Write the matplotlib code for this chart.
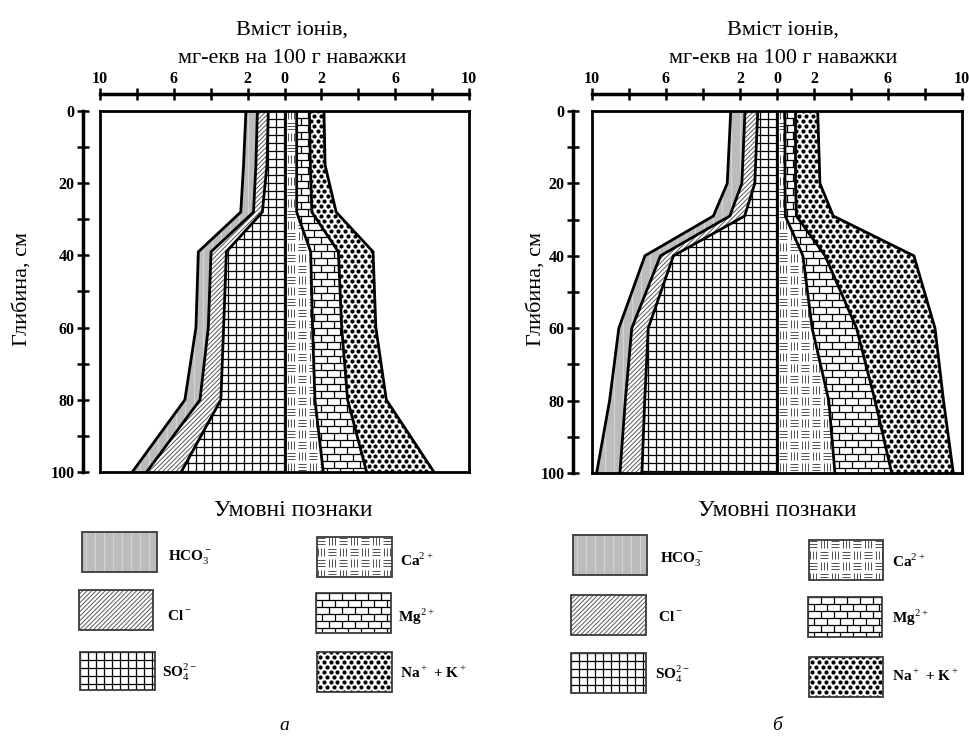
import numpy as np
import matplotlib
matplotlib.use("Agg")
import matplotlib.pyplot as plt
from matplotlib.transforms import Affine2D
from matplotlib.collections import LineCollection
from matplotlib.patches import Rectangle

W, H = 969, 740

# ---------------- data (мг-екв на 100 г наважки) ----------------
# panel "а"
depth_a = [0, 15, 28, 39, 60, 80, 100]
so4_a  = [0.88, 0.95, 1.20, 3.15, 3.30, 3.45, 5.60]
cl_a   = [0.59, 0.60, 0.48, 0.83, 0.83, 1.13, 1.87]
hco3_a = [0.62, 0.67, 0.69, 0.69, 0.67, 0.82, 0.78]
ca_a   = [0.66, 0.66, 0.66, 1.42, 1.52, 1.65, 2.10]
mg_a   = [0.69, 0.74, 0.82, 1.50, 1.58, 1.77, 2.35]
nak_a  = [0.79, 0.80, 1.32, 1.88, 1.85, 2.10, 3.65]

# panel "б"
depth_b = [0, 20, 29, 40, 60, 80, 100]
so4_b  = [1.04, 1.20, 1.75, 5.60, 6.96, 7.15, 7.30]
cl_b   = [0.69, 0.70, 0.80, 0.70, 0.89, 1.05, 1.19]
hco3_b = [0.77, 0.79, 0.89, 0.84, 0.70, 0.85, 1.26]
ca_b   = [0.43, 0.43, 0.45, 1.40, 1.90, 2.80, 3.13]
mg_b   = [0.57, 0.57, 0.60, 1.20, 2.40, 2.50, 3.07]
nak_b  = [1.20, 1.32, 1.99, 4.80, 4.24, 3.70, 3.33]

x_ticks = [-10, -8, -6, -4, -2, 0, 2, 4, 6, 8, 10]
x_tick_labels = ["10", "", "6", "", "2", "0", "2", "", "6", "", "10"]
y_ticks = [0, 10, 20, 30, 40, 50, 60, 70, 80, 90, 100]
y_tick_labels = ["0", "", "20", "", "40", "", "60", "", "80", "", "100"]

title_lines = ["Вміст іонів,", "мг-екв на 100 г наважки"]
ylabel_text = "Глибина, см"
legend_title = "Умовні познаки"
legend_labels = ["HCO$_3^-$", "Cl$^-$", "SO$_4^{2-}$", "Ca$^{2+}$", "Mg$^{2+}$", "Na$^+$ + K$^+$"]
panel_letters = ["а", "б"]

# ---------------- style ----------------
plt.rcParams["font.family"] = ["Liberation Serif", "DejaVu Serif"]
plt.rcParams["mathtext.fontset"] = "custom"
plt.rcParams["mathtext.rm"] = "Liberation Serif"
plt.rcParams["mathtext.bf"] = "Liberation Serif:bold"

fig = plt.figure(figsize=(W / 100, H / 100), dpi=100)
px = Affine2D().scale(1 / W, -1 / H).translate(0, 1) + fig.transFigure


def pattern(target, kind, box, clip_path, clip_trans, z=2):
    x0, y0, x1, y1 = box
    segs = []
    color, lw = "k", 0.9
    if kind == "grid":
        st = 8.0
        for x in np.arange(x0, x1 + st, st):
            segs.append([(x, y0), (x, y1)])
        for y in np.arange(y0, y1 + st, st):
            segs.append([(x0, y), (x1, y)])
    elif kind == "diag":
        color, lw, st = "#5a5a5a", 0.7, 4.5
        h = y1 - y0
        for c in np.arange(x0 - h, x1 + st, st):
            segs.append([(c, y1), (c + h, y0)])
    elif kind == "ca":
        color, lw = "#505050", 0.7
        bw, pitch = 8, 11
        for i, x in enumerate(np.arange(x0, x1, pitch)):
            for j, y in enumerate(np.arange(y0, y1, pitch)):
                if (i + j) % 2 == 0:
                    for k in range(3):
                        yy = y + 1 + k * 3
                        segs.append([(x, yy), (x + bw, yy)])
                else:
                    for k in range(3):
                        xx = x + 1 + k * 3
                        segs.append([(xx, y), (xx, y + bw)])
    elif kind == "brick":
        rh, bw = 7.0, 13.0
        for j, y in enumerate(np.arange(y0, y1 + rh, rh)):
            segs.append([(x0, y), (x1, y)])
            off = (bw / 2) * (j % 2)
            for x in np.arange(x0 + off, x1 + bw, bw):
                segs.append([(x, y), (x, y + rh)])
    elif kind == "vlines":
        color, lw, st = "#d4d4d4", 0.8, 9.0
        for x in np.arange(x0 + 4, x1, st):
            segs.append([(x, y0), (x, y1)])
    if kind == "dots":
        xs, ys = [], []
        for j, y in enumerate(np.arange(y0, y1 + 5, 5.0)):
            off = 3.4 * (j % 2)
            for x in np.arange(x0 + off, x1 + 7, 6.8):
                xs.append(x)
                ys.append(y)
        art = target.scatter(xs, ys, s=9, c="k", linewidths=0,
                             transform=px, zorder=z)
        art.set_clip_path(clip_path, clip_trans)
        return
    lc = LineCollection(segs, colors=color, linewidths=lw, transform=px, zorder=z)
    target.add_collection(lc, autolim=False)
    lc.set_clip_path(clip_path, clip_trans)


def panel(rect, depth, so4, cl, hco3, ca, mg, nak, loc_x, loc_y):
    l, t, r, b = rect
    ax = fig.add_axes([l / W, 1 - b / H, (r - l) / W, (b - t) / H])
    d = np.array(depth, float)
    c1 = np.array(so4)
    c2 = c1 + np.array(cl)
    c3 = c2 + np.array(hco3)
    r1 = np.array(ca)
    r2 = r1 + np.array(mg)
    r3 = r2 + np.array(nak)
    zero = np.zeros_like(d)
    bands = [(-c1, zero, "white", "grid"),
             (-c2, -c1, "white", "diag"),
             (-c3, -c2, "#bcbcbc", "vlines"),
             (zero, r1, "white", "ca"),
             (r1, r2, "white", "brick"),
             (r2, r3, "white", "dots")]
    for xa, xb, fc, kind in bands:
        poly = ax.fill_betweenx(d, xa, xb, facecolor=fc, edgecolor="none", zorder=1)
        path = poly.get_paths()[0]
        pattern(ax, kind, (l, t, r, b), path, ax.transData)
    for xs in (-c3, -c2, -c1, zero, r1, r2, r3):
        ax.plot(xs, d, color="k", lw=2.0, zorder=4, solid_joinstyle="miter")
    ax.set_xlim(-10, 10)
    ax.set_ylim(100, 0)
    ax.set_xticks([])
    ax.set_yticks([])
    for s in ax.spines.values():
        s.set_linewidth(2.0)
        s.set_zorder(5)

    sx = ax.secondary_xaxis(loc_x)
    sx.set_xticks(x_ticks, labels=x_tick_labels, fontsize=11.5, fontweight="bold")
    sx.tick_params(direction="inout", length=8, width=1.8, pad=1)
    sx.spines["top"].set_linewidth(2.5)
    sy = ax.secondary_yaxis(loc_y)
    sy.set_yticks(y_ticks, labels=y_tick_labels, fontsize=11.5, fontweight="bold")
    sy.tick_params(direction="inout", length=8, width=1.8, pad=2)
    sy.spines["left"].set_linewidth(2.5)
    return ax


ax_a = panel((100, 111, 469, 472), depth_a, so4_a, cl_a, hco3_a, ca_a, mg_a, nak_a,
             1.047, -0.046)
ax_b = panel((592, 111, 962, 473), depth_b, so4_b, cl_b, hco3_b, ca_b, mg_b, nak_b,
             1.047, -0.0514)

# overlay in pixel coordinates for texts and legend
ov = fig.add_axes([0, 0, 1, 1], zorder=10)
ov.set_xlim(0, W)
ov.set_ylim(H, 0)
ov.axis("off")
ov.patch.set_alpha(0)

for tx, ylx, lgx, capx, letter in ((292, 22, 293, 284, panel_letters[0]),
                                   (783, 536, 777, 777, panel_letters[1])):
    ov.text(tx, 35, title_lines[0], ha="center", va="baseline", fontsize=16)
    ov.text(tx, 63, title_lines[1], ha="center", va="baseline", fontsize=16)
    ov.text(ylx, 289, ylabel_text, ha="center", va="center", rotation=90, fontsize=16)
    ov.text(lgx, 510, legend_title, ha="center", va="center", fontsize=17)
    ov.text(capx, 726, letter, ha="center", va="center", fontsize=14, style="italic")

legend_a_boxes = [(82, 532, 157, 572), (79, 590, 153, 630), (80, 652, 155, 690),
                  (317, 537, 392, 577), (316, 593, 391, 633), (317, 652, 392, 692)]
legend_a_text = [(168, 558), (167, 616), (162, 672), (400, 560), (398, 617), (400, 673)]
legend_b_boxes = [(573, 535, 647, 575), (571, 595, 646, 635), (571, 653, 646, 693),
                  (809, 540, 883, 580), (808, 597, 882, 637), (809, 657, 883, 697)]
legend_b_text = [(660, 560), (658, 617), (655, 674), (892, 561), (892, 618), (892, 676)]
legend_styles = [("#bcbcbc", "vlines"), ("white", "diag"), ("white", "grid"),
                 ("white", "ca"), ("white", "brick"), ("white", "dots")]

for boxes, texts in ((legend_a_boxes, legend_a_text), (legend_b_boxes, legend_b_text)):
    for (x0, y0, x1, y1), (tx, ty), (fc, kind), lab in zip(boxes, texts, legend_styles, legend_labels):
        rect = Rectangle((x0, y0), x1 - x0, y1 - y0, facecolor=fc, edgecolor="none", zorder=1)
        ov.add_patch(rect)
        pattern(ov, kind, (x0, y0, x1, y1), rect.get_path(), rect.get_transform(), z=2)
        ov.add_patch(Rectangle((x0, y0), x1 - x0, y1 - y0, facecolor="none",
                               edgecolor="#3a3a3a", lw=1.3, zorder=3))
        ov.text(tx, ty, lab, ha="left", va="center", fontsize=11, fontweight="bold")

fig.savefig("out.png", dpi=100)
